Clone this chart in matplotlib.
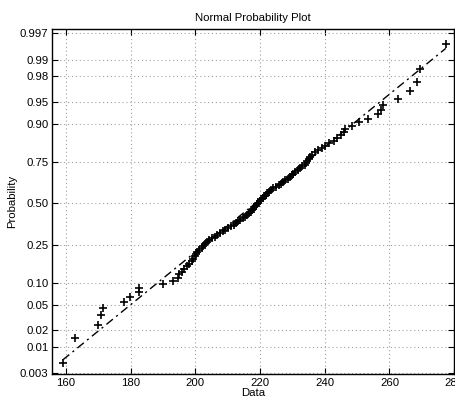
#!/usr/bin/env python3
# -*- coding: utf-8 -*-
"""
Normal probability plot (MATLAB normplot style) of 100 samples
"""

from statistics import NormalDist
import numpy as np
import matplotlib
matplotlib.use('Agg')
import matplotlib.pyplot as plt

plt.rcParams['font.family'] = ['Liberation Sans', 'DejaVu Sans']
plt.rcParams['font.size'] = 8.2

# sorted sample values (100 points)
data = [
    159.0, 162.9, 169.8, 170.7, 171.5, 177.8, 179.8, 182.7, 182.7, 189.9,
    193.0, 194.6, 195.0, 195.9, 196.6, 197.4, 198.1, 198.8, 199.4, 199.8,
    200.1, 200.6, 201.0, 201.9, 202.4, 202.9, 203.5, 204.2, 205.2, 206.0,
    206.8, 207.6, 208.4, 209.3, 210.1, 211.0, 211.8, 212.5, 213.2, 213.9,
    214.7, 215.3, 216.1, 216.6, 217.3, 217.6, 217.9, 218.2, 218.6, 219.0,
    219.4, 219.9, 220.4, 220.9, 221.4, 221.7, 222.2, 222.6, 223.4, 224.1,
    225.0, 225.7, 226.4, 227.1, 227.8, 228.6, 229.2, 229.8, 230.3, 230.9,
    231.6, 232.3, 233.1, 233.8, 234.2, 234.5, 235.0, 235.5, 236.0, 236.9,
    237.9, 239.1, 240.2, 241.4, 242.7, 243.8, 244.9, 245.8, 246.3, 248.4,
    250.7, 253.5, 256.6, 257.3, 258.1, 262.6, 266.4, 268.5, 269.3, 277.4,
]

prob_ticks = [0.003, 0.01, 0.02, 0.05, 0.10, 0.25, 0.50, 0.75, 0.90, 0.95, 0.98, 0.99, 0.997]
prob_labels = ['0.003', '0.01', '0.02', '0.05', '0.10', '0.25', '0.50',
               '0.75', '0.90', '0.95', '0.98', '0.99', '0.997']
x_ticks = [160, 180, 200, 220, 240, 260, 280]

nd = NormalDist()
x = np.sort(np.array(data))
n = len(x)
# plotting positions (i-0.5)/n on the normal quantile scale
z = np.array([nd.inv_cdf((i - 0.5) / n) for i in range(1, n + 1)])

# reference line through the 1st and 3rd quartiles (as normplot does)
q1 = np.percentile(x, 25, method='hazen')
q3 = np.percentile(x, 75, method='hazen')
z1 = nd.inv_cdf(0.25)
z3 = nd.inv_cdf(0.75)
slope = (z3 - z1) / (q3 - q1)
line_x = np.array([x.min(), x.max()])
line_z = z1 + slope * (line_x - q1)

fig = plt.figure(figsize=(4.56, 4.03), dpi=100)
ax = fig.add_axes([0.115, 0.072, 0.881, 0.856])

ax.plot(x, z, linestyle='none', marker='+', color='black',
        markersize=6, markeredgewidth=1.2, zorder=3)
ax.plot(line_x, line_z, color='black', linewidth=1.0, zorder=2,
        dashes=(6, 3, 1.5, 3))

ax.set_xlim(155.8, 280)
ax.set_ylim(-2.76, 2.82)
ax.set_xticks(x_ticks)
ax.set_yticks([nd.inv_cdf(p) for p in prob_ticks])
ax.set_yticklabels(prob_labels)

ax.grid(True, linestyle=(0, (1, 2.5)), color='#a0a0a0', linewidth=0.8)
ax.tick_params(direction='in', length=4, width=0.8, top=True, right=True,
               colors='black', labelsize=8.2, pad=3)
for sp in ax.spines.values():
    sp.set_linewidth(1.0)

ax.set_title('Normal Probability Plot', fontsize=8.2, pad=6)
ax.set_xlabel('Data', fontsize=8.2, labelpad=0)
ax.set_ylabel('Probability', fontsize=8.2, labelpad=2)

plt.savefig('out.png', dpi=100)
plt.close()
